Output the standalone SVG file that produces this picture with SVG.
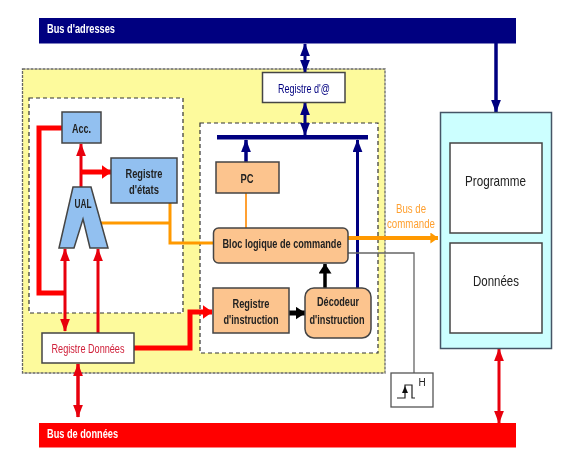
<svg xmlns="http://www.w3.org/2000/svg" width="562" height="464" viewBox="0 0 562 464">
<style>
text{font-family:"Liberation Sans",Arial,sans-serif;font-size:13px;text-anchor:middle;fill:#222;font-weight:bold}
.n{font-weight:normal}
.box{stroke:#444;stroke-width:1.500}
.blue{fill:#92c0f0}
.or{fill:#fcc48e}
.w{fill:#fff}
.dash{fill:#fff;stroke:#333;stroke-width:1.200;stroke-dasharray:4 3}
.l{fill:none;stroke-linejoin:miter}
</style>
<defs>
<marker id="r" viewBox="0 0 10 10" preserveAspectRatio="none" refX="9.500" refY="5" markerUnits="userSpaceOnUse" markerWidth="13" markerHeight="10" orient="auto-start-reverse"><path d="M0 0L10 5L0 10Z" fill="#e8000c"/></marker>
<marker id="rb" viewBox="0 0 10 10" preserveAspectRatio="none" refX="9.500" refY="5" markerUnits="userSpaceOnUse" markerWidth="10" markerHeight="14" orient="auto"><path d="M0 0L10 5L0 10Z" fill="#f00"/></marker>
<marker id="b" viewBox="0 0 10 10" preserveAspectRatio="none" refX="9.500" refY="5" markerUnits="userSpaceOnUse" markerWidth="13" markerHeight="10" orient="auto-start-reverse"><path d="M0 0L10 5L0 10Z" fill="#000080"/></marker>
<marker id="k" viewBox="0 0 10 10" preserveAspectRatio="none" refX="9.500" refY="5" markerUnits="userSpaceOnUse" markerWidth="10" markerHeight="13" orient="auto"><path d="M0 0L10 5L0 10Z" fill="#000"/></marker>
<marker id="o" viewBox="0 0 10 10" preserveAspectRatio="none" refX="9.500" refY="5" markerUnits="userSpaceOnUse" markerWidth="8" markerHeight="11" orient="auto"><path d="M0 0L10 5L0 10Z" fill="#ff9900"/></marker>
<filter id="soft" x="0" y="0" width="100%" height="100%"><feGaussianBlur stdDeviation="0.4"/></filter>
</defs>
<g filter="url(#soft)">
<rect width="562" height="464" fill="#fff"/>
<g id="cpu"><rect x="22.500" y="69" width="362.500" height="304" fill="#fdfa9c" stroke="#666" stroke-width="1.300" stroke-dasharray="3 1"/></g>
<g id="zone-ual"><rect class="dash" x="29" y="98" width="154" height="215"/></g>
<g id="zone-commande"><rect class="dash" x="200" y="123" width="178" height="230"/></g>

<g id="connectors">
<path class="l" d="M62 128H39V293H65" stroke="#f00" stroke-width="5"/>
<path class="l" d="M65 249V331" stroke="#e8000c" stroke-width="3" marker-start="url(#r)" marker-end="url(#r)"/>
<path class="l" d="M98 333V249" stroke="#e8000c" stroke-width="3" marker-end="url(#r)"/>
<path class="l" d="M81 187V144" stroke="#e8000c" stroke-width="3" marker-end="url(#r)"/>
<path class="l" d="M81 172H111" stroke="#f00" stroke-width="5" marker-end="url(#rb)"/>
<path class="l" d="M78 364V417" stroke="#e8000c" stroke-width="3.500" marker-start="url(#r)" marker-end="url(#r)"/>
<path class="l" d="M134 348H190V312H212" stroke="#f00" stroke-width="5" marker-end="url(#rb)"/>
<path class="l" d="M499 349V423" stroke="#e8000c" stroke-width="3" marker-start="url(#r)" marker-end="url(#r)"/>
<path class="l" d="M305 44V72" stroke="#000080" stroke-width="3" marker-start="url(#b)" marker-end="url(#b)"/>
<path class="l" d="M305 103V135" stroke="#000080" stroke-width="3" marker-start="url(#b)" marker-end="url(#b)"/>
<path class="l" d="M246 162V140" stroke="#000080" stroke-width="3.500" marker-end="url(#b)"/>
<path class="l" d="M357.500 288V140" stroke="#000080" stroke-width="3" marker-end="url(#b)"/>
<path class="l" d="M496 43V112" stroke="#000080" stroke-width="3.500" marker-end="url(#b)"/>
<rect x="217" y="135" width="151" height="4.500" fill="#000080"/>
<path class="l" d="M289 313H305" stroke="#000" stroke-width="5" marker-end="url(#k)"/>
<path class="l" d="M325 288V264" stroke="#000" stroke-width="3.500" marker-end="url(#k)"/>
<path class="l" d="M101 223H170M170 203V243H213" stroke="#ff9900" stroke-width="3"/>
<path class="l" d="M246 193V228" stroke="#ffa030" stroke-width="2"/>
<path class="l" d="M348 238H438" stroke="#ff9900" stroke-width="4" marker-end="url(#o)"/>
<path class="l" d="M348 253H414V373" stroke="#666" stroke-width="1.300"/>
</g>

<g id="bus-adresses"><rect x="39" y="18" width="477" height="25.500" fill="#000080"/><text x="47" y="33" style="text-anchor:start;fill:#fff" textLength="68" lengthAdjust="spacingAndGlyphs">Bus d'adresses</text></g>
<g id="bus-donnees"><rect x="39" y="423" width="477" height="24.500" fill="#f00"/><text x="47" y="438" style="text-anchor:start;fill:#fff" textLength="71" lengthAdjust="spacingAndGlyphs">Bus de données</text></g>
<g id="acc"><rect class="box blue" x="62" y="112" width="39" height="31"/><text x="81.500" y="133" textLength="19" lengthAdjust="spacingAndGlyphs">Acc.</text></g>
<g id="registre-etats"><rect class="box blue" x="111" y="158" width="66" height="45"/><text x="144" y="178" textLength="37" lengthAdjust="spacingAndGlyphs">Registre</text><text x="144" y="194" textLength="30" lengthAdjust="spacingAndGlyphs">d'états</text></g>
<g id="ual"><path class="box blue" d="M73 187H91L108 248H90L83 219L74 248H59Z"/><text x="83" y="208" textLength="17" lengthAdjust="spacingAndGlyphs">UAL</text></g>
<g id="registre-donnees"><rect class="box w" x="42" y="333" width="92" height="30"/><text class="n" x="88" y="353" style="fill:#d0203a" textLength="73" lengthAdjust="spacingAndGlyphs">Registre Données</text></g>
<g id="registre-adresse"><rect class="box w" x="262.500" y="72.500" width="82.500" height="30"/><text class="n" x="304" y="92.500" style="fill:#000080" textLength="52" lengthAdjust="spacingAndGlyphs">Registre d'@</text></g>
<g id="pc"><rect class="box or" x="216" y="162" width="63" height="31"/><text x="247" y="182.500" textLength="13" lengthAdjust="spacingAndGlyphs">PC</text></g>
<g id="bloc"><rect class="box or" x="213.500" y="228" width="134.500" height="35" rx="5"/><text x="282" y="248" textLength="119" lengthAdjust="spacingAndGlyphs">Bloc logique de commande</text></g>
<g id="registre-instruction"><rect class="box or" x="213" y="288" width="76" height="45"/><text x="251" y="308" textLength="37" lengthAdjust="spacingAndGlyphs">Registre</text><text x="251" y="324" textLength="55" lengthAdjust="spacingAndGlyphs">d'instruction</text></g>
<g id="decodeur"><rect class="box or" x="305" y="288" width="66" height="50" rx="9"/><text x="338" y="306" textLength="42" lengthAdjust="spacingAndGlyphs">Décodeur</text><text x="337" y="324" textLength="55" lengthAdjust="spacingAndGlyphs">d'instruction</text></g>
<g id="label-bus-commande"><text class="n" x="411" y="213" style="fill:#ffa030" textLength="30" lengthAdjust="spacingAndGlyphs">Bus de</text><text class="n" x="411" y="228" style="fill:#ffa030" textLength="48" lengthAdjust="spacingAndGlyphs">commande</text></g>
<g id="horloge"><rect class="w" x="391" y="373" width="42" height="34" stroke="#555" stroke-width="1.300"/><path d="M397 398H405V385H412V398H415" fill="none" stroke="#222" stroke-width="1.200"/><path d="M405 386L408 393H402Z" fill="#111"/><text class="n" x="422" y="386" style="font-size:10px">H</text></g>
<g id="memoire"><rect x="440.500" y="112.500" width="111" height="236" fill="#ccffff" stroke="#456" stroke-width="1.500"/></g>
<g id="programme"><rect class="box w" x="450" y="143" width="92" height="90"/><text class="n" x="495.500" y="186" style="font-size:15px" textLength="61" lengthAdjust="spacingAndGlyphs">Programme</text></g>
<g id="donnees"><rect class="box w" x="450" y="243" width="92" height="90"/><text class="n" x="496" y="286" style="font-size:15px" textLength="46" lengthAdjust="spacingAndGlyphs">Données</text></g>
</g>
</svg>
